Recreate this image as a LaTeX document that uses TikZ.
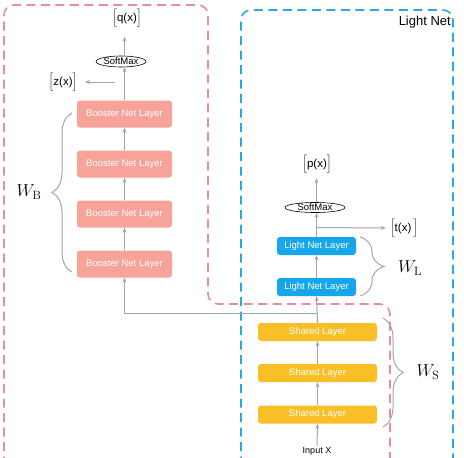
\documentclass[tikz,border=0pt]{standalone}
\usepackage{fontspec}
\newfontfamily\lsans{Liberation Sans}
\usetikzlibrary{arrows.meta,shapes.geometric,decorations.pathreplacing}
\definecolor{boostc}{RGB}{247,163,153}
\definecolor{lightc}{RGB}{22,166,234}
\definecolor{sharec}{RGB}{249,191,39}
\definecolor{pinkd}{RGB}{232,140,160}
\definecolor{blued}{RGB}{40,170,220}
\definecolor{arrg}{RGB}{165,165,165}
\begin{document}
\begin{tikzpicture}[x=1pt,y=-1pt,
  arr/.style={draw=arrg, line width=1pt, -{Stealth[length=5pt,width=4pt]}},
  layerbox/.style={rectangle, rounded corners=3pt, text=white, inner sep=0pt,
     font=\lsans\fontsize{9.5}{10}\selectfont},
  boost/.style={layerbox, fill=boostc, minimum width=95pt, minimum height=27pt},
  lightbox/.style={layerbox, fill=lightc, minimum width=79pt, minimum height=18pt},
  sharebox/.style={layerbox, fill=sharec, minimum width=119pt, minimum height=18pt},
  smax/.style={ellipse, draw=black, line width=0.6pt, fill=white, inner sep=0pt,
     minimum height=11pt, font=\lsans\fontsize{9.5}{10}\selectfont},
  outlbl/.style={font=\lsans\fontsize{11.5}{12}\selectfont, inner sep=0pt},
  bracestyle/.style={draw=arrg, line width=1pt, decorate},
  wlbl/.style={font=\LARGE, inner sep=0pt},
  pinkline/.style={draw=pinkd, line width=1.6pt, dash pattern=on 9pt off 5.5pt, rounded corners=10pt},
  blueline/.style={draw=blued, line width=1.6pt, dash pattern=on 9pt off 5.5pt, rounded corners=10pt}]
\useasboundingbox (0,0) rectangle (464,458);
\clip (0,0) rectangle (464,458);
\fill[white] (0,0) rectangle (464,458);

% boundaries
\draw[blueline] (241,480) -- (241,10) -- (453,10) -- (453,480);
\draw[pinkline] (4,480) -- (4,5) -- (208,5) -- (208,304) -- (390,304) -- (390,480);

\node[anchor=east, font=\lsans\fontsize{13}{14}\selectfont, inner sep=0pt] (ln) at (451,22) {Light Net};

% booster net
\node[boost] (b1) at (124.5,114) {Booster Net Layer};
\node[boost] (b2) at (124.5,164) {Booster Net Layer};
\node[boost] (b3) at (124.5,214) {Booster Net Layer};
\node[boost] (b4) at (124.5,264) {Booster Net Layer};
\node[smax, minimum width=50pt] (sb) at (121,61.5) {SoftMax};
\node[outlbl] (q) at (127,18) {$\Big[$q(x)$\Big]$};
\node[outlbl] (z) at (63,82) {$\Big[$z(x)$\Big]$};
\coordinate (zs) at (115,82);
\coordinate (ze) at (85,82);

% light net
\node[lightbox] (l1) at (316.5,246) {Light Net Layer};
\node[lightbox] (l2) at (316.5,287) {Light Net Layer};
\node[smax, minimum width=60pt, minimum height=10pt] (sl) at (315,207.5) {SoftMax};
\node[outlbl] (p) at (317,164) {$\Big[$p(x)$\Big]$};
\node[outlbl] (t) at (404,228) {$\Big[$t(x)\,$\Big]$};

% shared
\node[sharebox] (s1) at (317.5,332) {Shared Layer};
\node[sharebox] (s2) at (317.5,373) {Shared Layer};
\node[sharebox] (s3) at (317.5,414.5) {Shared Layer};
\node[font=\lsans\fontsize{9}{10}\selectfont, inner sep=1pt] (in) at (317,451) {Input X};

% connectors
\draw[arr] (in.north) -- (s3.south);
\draw[arr] (s3.north) -- (s2.south);
\draw[arr] (s2.north) -- (s1.south);
\draw[arr] (s1.north) -- (l2.south);
\draw[arr] (s1.north) ++(0,-9) -| (b4.south);
\draw[arr] (l2.north) -- (l1.south);
\draw[arr] (l1.north) -- (l1.north |- sl.south);
\coordinate (tj) at (316.5,227.5);
\draw[arr] (tj) -- ([xshift=-4pt]t.west);
\draw[arr] (sl.north -| l1.north) -- ++(0,-24);
\draw[arr] (b4.north) -- (b3.south);
\draw[arr] (b3.north) -- (b2.south);
\draw[arr] (b2.north) -- (b1.south);
\draw[arr] (b1.north) -- (b1.north |- sb.south);
\draw[arr] (b1.north |- sb.north) -- ++(0,-19);
\draw[arr] (zs) -- (ze);

% braces
\draw[bracestyle, decoration={brace, amplitude=20pt}] (72,272) -- (72,113);
\node[wlbl] (wb) at (29,192) {$W_{\mathrm{B}}$};
\draw[bracestyle, decoration={brace, amplitude=24pt}] (360,237) -- (360,296);
\node[wlbl] (wl) at (410,268) {$W_{\mathrm{L}}$};
\draw[bracestyle, decoration={brace, amplitude=20pt}] (383,318) -- (383,427);
\node[wlbl] (ws) at (428,372) {$W_{\mathrm{S}}$};
\end{tikzpicture}
\end{document}
